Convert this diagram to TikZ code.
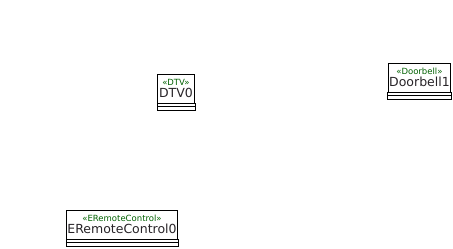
\documentclass[tikz,border=0pt]{standalone}
\usepackage{fontspec}
\setmainfont{DejaVu Sans}
\usepackage{tikz}
\definecolor{stereogreen}{RGB}{0,96,0}
\definecolor{objtext}{RGB}{40,36,40}
\newcommand{\stereo}[1]{{\color{stereogreen}\fontsize{8.5}{9.5}\selectfont\guillemotleft#1\guillemotright}}
\tikzstyle{Object}=[rectangle, draw=black, line width=0.8pt, align=center, inner xsep=1pt, inner ysep=1pt, minimum width=37, minimum height=29, text=objtext, font=\fontsize{12.5}{12.5}\selectfont]

\begin{document}
\begin{tikzpicture}[x=1pt, y=1pt]
    \useasboundingbox (0,0) rectangle (453,249);
    \path
    (176,160.5) node[Object] (dtv) {\stereo{DTV}\\DTV0}
    (419.5,171.5) node[Object] (bell) {\stereo{Doorbell}\\Doorbell1}
    (122,24.5) node[Object] (remote) {\stereo{ERemoteControl}\\ERemoteControl0};

    % empty attribute and operation parts under each header
    \foreach \obj in {dtv, bell, remote} {
        \draw[line width=0.8pt] (\obj.south west) -- ++(0,-7) -| (\obj.south east);
        \draw[line width=0.8pt] ([yshift=-3.5pt]\obj.south west) -- ([yshift=-3.5pt]\obj.south east);
    }
\end{tikzpicture}
\end{document}
